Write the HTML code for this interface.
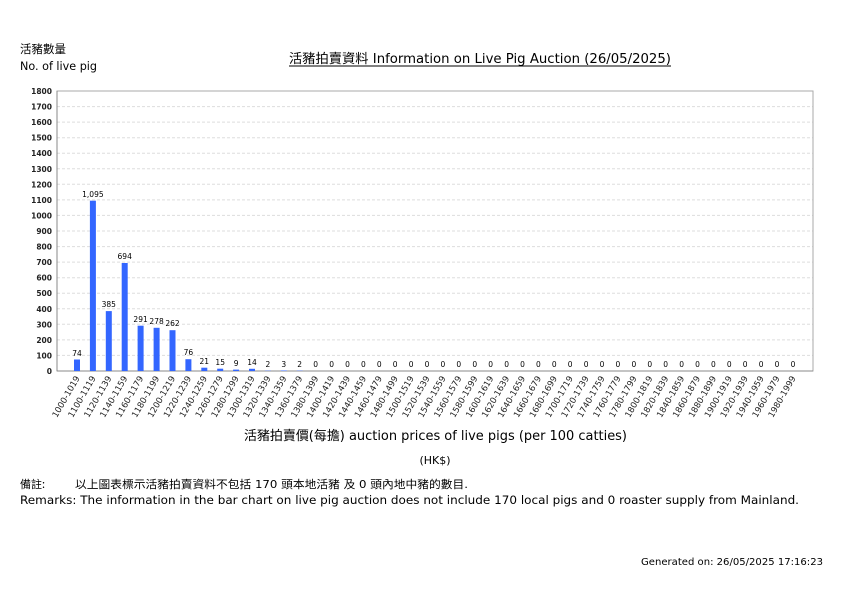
<!DOCTYPE html>
<html><head><meta charset="utf-8"><style>
body{margin:0;background:#fff;}
svg{display:block;font-family:"DejaVu Sans","Noto Sans CJK TC",sans-serif;}
</style></head><body>
<svg width="842" height="595" viewBox="0 0 842 595" xmlns="http://www.w3.org/2000/svg">
<text x="20" y="53" font-size="11.5" font-family="Noto Sans CJK TC, sans-serif">活豬數量</text>
<text x="20" y="70" font-size="11.5" textLength="77" lengthAdjust="spacingAndGlyphs">No. of live pig</text>
<text x="289" y="63" font-size="13" textLength="382" lengthAdjust="spacingAndGlyphs">活豬拍賣資料 Information on Live Pig Auction (26/05/2025)</text>
<line x1="289" y1="66" x2="671" y2="66" stroke="#000" stroke-width="1"/>
<g stroke="#ddd" stroke-dasharray="3,2" stroke-width="1">
<line x1="57" x2="813" y1="355.4" y2="355.4"/><line x1="57" x2="813" y1="339.9" y2="339.9"/><line x1="57" x2="813" y1="324.3" y2="324.3"/><line x1="57" x2="813" y1="308.8" y2="308.8"/><line x1="57" x2="813" y1="293.2" y2="293.2"/><line x1="57" x2="813" y1="277.7" y2="277.7"/><line x1="57" x2="813" y1="262.1" y2="262.1"/><line x1="57" x2="813" y1="246.6" y2="246.6"/><line x1="57" x2="813" y1="231" y2="231"/><line x1="57" x2="813" y1="215.4" y2="215.4"/><line x1="57" x2="813" y1="199.9" y2="199.9"/><line x1="57" x2="813" y1="184.3" y2="184.3"/><line x1="57" x2="813" y1="168.8" y2="168.8"/><line x1="57" x2="813" y1="153.2" y2="153.2"/><line x1="57" x2="813" y1="137.7" y2="137.7"/><line x1="57" x2="813" y1="122.1" y2="122.1"/><line x1="57" x2="813" y1="106.6" y2="106.6"/>
</g>
<rect x="57" y="91" width="756" height="280" fill="none" stroke="#aaa"/>
<line x1="57" y1="91" x2="57" y2="371" stroke="#888"/>
<line x1="57" y1="371" x2="813" y2="371" stroke="#888"/>
<g font-size="7.5" text-anchor="end" font-weight="bold" fill="#222">
<text x="52" y="374">0</text><text x="52" y="358.4">100</text><text x="52" y="342.9">200</text><text x="52" y="327.3">300</text><text x="52" y="311.8">400</text><text x="52" y="296.2">500</text><text x="52" y="280.7">600</text><text x="52" y="265.1">700</text><text x="52" y="249.6">800</text><text x="52" y="234">900</text><text x="52" y="218.4">1000</text><text x="52" y="202.9">1100</text><text x="52" y="187.3">1200</text><text x="52" y="171.8">1300</text><text x="52" y="156.2">1400</text><text x="52" y="140.7">1500</text><text x="52" y="125.1">1600</text><text x="52" y="109.6">1700</text><text x="52" y="94">1800</text>
</g>
<g fill="#3366ff">
<rect x="74" y="359.5" width="6" height="11.5"/>
<rect x="89.9" y="200.7" width="6" height="170.3"/>
<rect x="105.8" y="311.1" width="6" height="59.9"/>
<rect x="121.7" y="263" width="6" height="108"/>
<rect x="137.6" y="325.7" width="6" height="45.3"/>
<rect x="153.6" y="327.8" width="6" height="43.2"/>
<rect x="169.5" y="330.2" width="6" height="40.8"/>
<rect x="185.4" y="359.2" width="6" height="11.8"/>
<rect x="201.3" y="367.7" width="6" height="3.3"/>
<rect x="217.2" y="368.7" width="6" height="2.3"/>
<rect x="233.1" y="369.6" width="6" height="1.4"/>
<rect x="249" y="368.8" width="6" height="2.2"/>
<rect x="264.9" y="370.7" width="6" height="0.3"/>
<rect x="280.8" y="370.5" width="6" height="0.5"/>
<rect x="296.7" y="370.7" width="6" height="0.3"/>
</g>
<g font-size="7.5" text-anchor="middle">
<text x="77" y="356">74</text><text x="92.9" y="197">1,095</text><text x="108.8" y="307">385</text><text x="124.7" y="259">694</text><text x="140.6" y="322">291</text><text x="156.6" y="324">278</text><text x="172.5" y="326">262</text><text x="188.4" y="355">76</text><text x="204.3" y="364">21</text><text x="220.2" y="365">15</text><text x="236.1" y="366">9</text><text x="252" y="365">14</text><text x="267.9" y="367">2</text><text x="283.8" y="367">3</text><text x="299.7" y="367">2</text>
<text x="315.7" y="367">0</text><text x="331.6" y="367">0</text><text x="347.5" y="367">0</text><text x="363.4" y="367">0</text><text x="379.3" y="367">0</text><text x="395.2" y="367">0</text><text x="411.1" y="367">0</text><text x="427" y="367">0</text><text x="442.9" y="367">0</text><text x="458.8" y="367">0</text><text x="474.8" y="367">0</text><text x="490.7" y="367">0</text><text x="506.6" y="367">0</text><text x="522.5" y="367">0</text><text x="538.4" y="367">0</text><text x="554.3" y="367">0</text><text x="570.2" y="367">0</text><text x="586.1" y="367">0</text><text x="602" y="367">0</text><text x="617.9" y="367">0</text><text x="633.9" y="367">0</text><text x="649.8" y="367">0</text><text x="665.7" y="367">0</text><text x="681.6" y="367">0</text><text x="697.5" y="367">0</text><text x="713.4" y="367">0</text><text x="729.3" y="367">0</text><text x="745.2" y="367">0</text><text x="761.1" y="367">0</text><text x="777" y="367">0</text><text x="793" y="367">0</text>
</g>
<g font-size="8.5" text-anchor="end" fill="#222">
<text transform="translate(80,378) rotate(-60)">1000-1019</text>
<text transform="translate(95.9,378) rotate(-60)">1100-1119</text>
<text transform="translate(111.8,378) rotate(-60)">1120-1139</text>
<text transform="translate(127.7,378) rotate(-60)">1140-1159</text>
<text transform="translate(143.6,378) rotate(-60)">1160-1179</text>
<text transform="translate(159.6,378) rotate(-60)">1180-1199</text>
<text transform="translate(175.5,378) rotate(-60)">1200-1219</text>
<text transform="translate(191.4,378) rotate(-60)">1220-1239</text>
<text transform="translate(207.3,378) rotate(-60)">1240-1259</text>
<text transform="translate(223.2,378) rotate(-60)">1260-1279</text>
<text transform="translate(239.1,378) rotate(-60)">1280-1299</text>
<text transform="translate(255,378) rotate(-60)">1300-1319</text>
<text transform="translate(270.9,378) rotate(-60)">1320-1339</text>
<text transform="translate(286.8,378) rotate(-60)">1340-1359</text>
<text transform="translate(302.7,378) rotate(-60)">1360-1379</text>
<text transform="translate(318.7,378) rotate(-60)">1380-1399</text>
<text transform="translate(334.6,378) rotate(-60)">1400-1419</text>
<text transform="translate(350.5,378) rotate(-60)">1420-1439</text>
<text transform="translate(366.4,378) rotate(-60)">1440-1459</text>
<text transform="translate(382.3,378) rotate(-60)">1460-1479</text>
<text transform="translate(398.2,378) rotate(-60)">1480-1499</text>
<text transform="translate(414.1,378) rotate(-60)">1500-1519</text>
<text transform="translate(430,378) rotate(-60)">1520-1539</text>
<text transform="translate(445.9,378) rotate(-60)">1540-1559</text>
<text transform="translate(461.8,378) rotate(-60)">1560-1579</text>
<text transform="translate(477.8,378) rotate(-60)">1580-1599</text>
<text transform="translate(493.7,378) rotate(-60)">1600-1619</text>
<text transform="translate(509.6,378) rotate(-60)">1620-1639</text>
<text transform="translate(525.5,378) rotate(-60)">1640-1659</text>
<text transform="translate(541.4,378) rotate(-60)">1660-1679</text>
<text transform="translate(557.3,378) rotate(-60)">1680-1699</text>
<text transform="translate(573.2,378) rotate(-60)">1700-1719</text>
<text transform="translate(589.1,378) rotate(-60)">1720-1739</text>
<text transform="translate(605,378) rotate(-60)">1740-1759</text>
<text transform="translate(620.9,378) rotate(-60)">1760-1779</text>
<text transform="translate(636.9,378) rotate(-60)">1780-1799</text>
<text transform="translate(652.8,378) rotate(-60)">1800-1819</text>
<text transform="translate(668.7,378) rotate(-60)">1820-1839</text>
<text transform="translate(684.6,378) rotate(-60)">1840-1859</text>
<text transform="translate(700.5,378) rotate(-60)">1860-1879</text>
<text transform="translate(716.4,378) rotate(-60)">1880-1899</text>
<text transform="translate(732.3,378) rotate(-60)">1900-1919</text>
<text transform="translate(748.2,378) rotate(-60)">1920-1939</text>
<text transform="translate(764.1,378) rotate(-60)">1940-1959</text>
<text transform="translate(780,378) rotate(-60)">1960-1979</text>
<text transform="translate(796,378) rotate(-60)">1980-1999</text>
</g>
<text x="244" y="440" font-size="13" textLength="383" lengthAdjust="spacingAndGlyphs">活豬拍賣價(每擔) auction prices of live pigs (per 100 catties)</text>
<text x="435" y="464" font-size="11" text-anchor="middle">(HK$)</text>
<text x="20" y="488" font-size="11" font-family="Noto Sans CJK TC, sans-serif">備註:</text>
<text x="75" y="488" font-size="11" textLength="393" lengthAdjust="spacingAndGlyphs">以上圖表標示活豬拍賣資料不包括 170 頭本地活豬 及 0 頭內地中豬的數目.</text>
<text x="20" y="504" font-size="11.5" textLength="779" lengthAdjust="spacingAndGlyphs">Remarks: The information in the bar chart on live pig auction does not include 170 local pigs and 0 roaster supply from Mainland.</text>
<text x="641" y="565" font-size="9.5" textLength="182" lengthAdjust="spacingAndGlyphs">Generated on: 26/05/2025 17:16:23</text>
</svg>
</body></html>
